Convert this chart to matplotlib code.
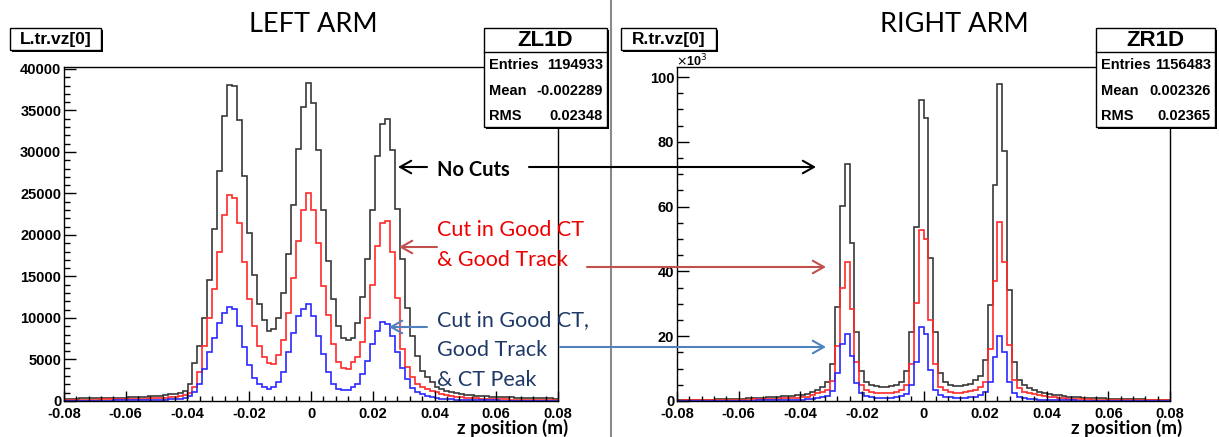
import numpy as np
import matplotlib
matplotlib.use("Agg")
import matplotlib.pyplot as plt
from matplotlib.patches import Rectangle, FancyArrowPatch
from matplotlib.lines import Line2D
from matplotlib.ticker import MultipleLocator, FuncFormatter

plt.rcParams["font.family"] = ["Liberation Sans", "DejaVu Sans"]

W, H = 1219, 437

# 100 bins from -0.08 to 0.08 m
z_lo, z_hi, n_bins = -0.08, 0.08, 100
edges = np.linspace(z_lo, z_hi, n_bins + 1)

# ---- LEFT ARM (counts) ----
left_nocut = [
    280, 300, 290, 310, 320, 310, 330, 350, 340, 370,
    380, 400, 420, 430, 460, 480, 520, 560, 600, 650,
    720, 800, 880, 950, 1250, 2100, 4560, 6570, 10050, 14570,
    20740, 27670, 34350, 38080, 37900, 33870, 27070, 20260, 15130, 11650,
    9700, 8440, 8640, 10050, 13050, 17660, 23660, 30350, 35470, 38360,
    35960, 30270, 23060, 16860, 12250, 9050, 7650, 7330, 7650, 9450,
    12570, 17060, 23000, 29470, 33400, 34000, 30270, 23140, 17060, 11250,
    7850, 5450, 3640, 2840, 2240, 1640, 1440, 1240, 1040, 920,
    840, 760, 700, 640, 600, 560, 520, 500, 470, 450,
    430, 410, 390, 380, 360, 350, 340, 330, 320, 300]
left_ct_track = [
    150, 160, 150, 170, 160, 180, 170, 190, 200, 200,
    210, 220, 230, 240, 250, 270, 290, 310, 340, 370,
    400, 440, 480, 560, 700, 1000, 1640, 3440, 6650, 10050,
    13450, 17940, 22460, 24780, 24500, 21460, 16740, 12330, 9050, 6570,
    5250, 4560, 4440, 5530, 7330, 10650, 14860, 19260, 23060, 25060,
    22980, 19060, 13850, 10330, 6850, 4640, 3920, 3840, 4640, 5250,
    7050, 10050, 14000, 18700, 21400, 21700, 17940, 12450, 6250, 4040,
    2840, 2040, 1640, 1440, 1240, 1040, 840, 700, 600, 520,
    460, 400, 360, 320, 290, 260, 240, 220, 200, 190,
    180, 170, 160, 150, 150, 140, 130, 130, 120, 120]
left_ct_peak = [
    40, 40, 50, 40, 50, 50, 60, 50, 60, 60,
    70, 70, 80, 80, 90, 100, 110, 120, 140, 160,
    180, 210, 250, 300, 380, 560, 1040, 2040, 3840, 5850,
    7650, 9450, 10650, 11330, 11130, 9050, 6450, 4300, 2800, 2000,
    1640, 1440, 1640, 2320, 3440, 5850, 8170, 10250, 11050, 11650,
    10250, 7850, 5650, 3440, 2040, 1440, 1320, 1320, 1640, 2040,
    3240, 4840, 6850, 8450, 9550, 9250, 7850, 5850, 4000, 2600,
    1600, 1100, 800, 600, 450, 350, 280, 230, 190, 160,
    140, 120, 110, 100, 90, 80, 70, 70, 60, 60,
    50, 50, 50, 40, 40, 40, 40, 30, 30, 30]

# ---- RIGHT ARM (thousands of counts) ----
right_nocut = [
    0.30, 0.32, 0.33, 0.35, 0.38, 0.40, 0.42, 0.45, 0.48, 0.52,
    0.55, 0.60, 0.65, 0.70, 0.78, 0.85, 0.95, 1.05, 1.15, 1.25,
    1.35, 1.45, 1.55, 1.65, 1.75, 1.85, 2.2, 2.7, 3.3, 4.3,
    5.9, 11.3, 29.0, 60.3, 73.3, 48.8, 21.3, 9.3, 5.9, 4.9,
    4.6, 4.4, 4.4, 4.5, 4.9, 5.9, 9.3, 21.3, 53.8, 92.8,
    87.5, 44.1, 21.3, 8.5, 5.9, 4.9, 4.6, 4.6, 4.9, 5.4,
    6.5, 7.7, 12.6, 29.5, 66.7, 97.9, 77.2, 34.2, 12.1, 6.5,
    4.9, 3.9, 3.4, 2.9, 2.5, 2.2, 1.9, 1.7, 1.5, 1.35,
    1.2, 1.1, 1.0, 0.95, 0.9, 0.85, 0.8, 0.75, 0.7, 0.65,
    0.6, 0.55, 0.52, 0.5, 0.47, 0.45, 0.42, 0.4, 0.38, 0.35]
right_ct_track = [
    0.15, 0.16, 0.17, 0.18, 0.19, 0.20, 0.22, 0.24, 0.26, 0.28,
    0.30, 0.33, 0.36, 0.40, 0.44, 0.48, 0.53, 0.58, 0.64, 0.70,
    0.76, 0.82, 0.90, 0.98, 1.05, 1.1, 1.3, 1.8, 2.4, 2.9,
    3.4, 6.3, 16.9, 34.9, 42.9, 28.5, 12.1, 4.9, 3.4, 2.9,
    2.5, 2.4, 2.4, 2.5, 2.9, 3.4, 4.9, 11.4, 30.3, 52.8,
    50.1, 24.9, 11.4, 4.4, 3.4, 2.9, 2.6, 2.6, 2.8, 3.0,
    3.4, 4.2, 5.9, 16.2, 37.0, 55.2, 42.9, 17.2, 6.5, 3.9,
    2.9, 2.4, 2.1, 1.8, 1.5, 1.3, 1.1, 0.95, 0.85, 0.75,
    0.65, 0.60, 0.55, 0.50, 0.45, 0.42, 0.40, 0.37, 0.35, 0.32,
    0.30, 0.28, 0.26, 0.25, 0.24, 0.22, 0.21, 0.20, 0.19, 0.18]
right_ct_peak = [
    0.05, 0.05, 0.06, 0.06, 0.07, 0.07, 0.08, 0.08, 0.09, 0.10,
    0.10, 0.11, 0.12, 0.13, 0.14, 0.15, 0.17, 0.19, 0.21, 0.23,
    0.25, 0.28, 0.31, 0.35, 0.40, 0.45, 0.55, 0.70, 0.90, 1.2,
    1.6, 3.0, 8.5, 17.5, 20.8, 13.8, 5.6, 2.4, 1.5, 1.2,
    1.05, 1.0, 1.0, 1.05, 1.2, 1.5, 2.2, 5.0, 12.1, 22.9,
    20.6, 9.5, 3.4, 1.8, 1.3, 1.1, 1.0, 1.0, 1.05, 1.15,
    1.3, 1.7, 2.9, 5.9, 13.6, 20.0, 15.2, 5.9, 2.4, 1.3,
    0.9, 0.7, 0.55, 0.45, 0.38, 0.32, 0.28, 0.24, 0.21, 0.19,
    0.17, 0.15, 0.14, 0.13, 0.12, 0.11, 0.10, 0.10, 0.09, 0.09,
    0.08, 0.08, 0.07, 0.07, 0.07, 0.06, 0.06, 0.06, 0.05, 0.05]

c_black = "#383838"
c_red = "#ff2a2a"
c_blue = "#2a2aff"


def fx(x):
    return x / W


def fy(y):
    return 1 - y / H


fig = plt.figure(figsize=(W / 100, H / 100), dpi=100)
fig.patch.set_facecolor("white")

ax_l = fig.add_axes([fx(64), fy(401), 494 / W, 334 / H])
ax_r = fig.add_axes([fx(677), fy(401), 493 / W, 334 / H])


def style(ax, ymax, ymaj, ymin):
    ax.set_xlim(z_lo, z_hi)
    ax.set_ylim(0, ymax)
    ax.xaxis.set_major_locator(MultipleLocator(0.02))
    ax.xaxis.set_minor_locator(MultipleLocator(0.004))
    ax.yaxis.set_major_locator(MultipleLocator(ymaj))
    ax.yaxis.set_minor_locator(MultipleLocator(ymin))
    ax.xaxis.set_major_formatter(
        FuncFormatter(lambda v, p: "0" if abs(v) < 1e-9 else f"{v:.2f}"))
    ax.yaxis.set_major_formatter(FuncFormatter(lambda v, p: f"{v:.0f}"))
    ax.tick_params(which="both", direction="in", top=False, right=False,
                   width=1, labelsize=10.5)
    ax.tick_params(axis="y", which="major", length=8.5, pad=2)
    ax.tick_params(axis="y", which="minor", length=4.3)
    ax.tick_params(axis="x", which="major", length=7, pad=4.5)
    ax.tick_params(axis="x", which="minor", length=3.5)
    for lab in ax.get_xticklabels() + ax.get_yticklabels():
        lab.set_fontweight("bold")
    for s in ax.spines.values():
        s.set_linewidth(1)
        s.set_color("black")


# left arm histograms
ax_l.stairs(left_nocut, edges, color=c_black, lw=1.2, baseline=None)
ax_l.stairs(left_ct_track, edges, color=c_red, lw=1.2, baseline=None)
ax_l.stairs(left_ct_peak, edges, color=c_blue, lw=1.2, baseline=None)
style(ax_l, 40240, 5000, 1000)

# right arm histograms
ax_r.stairs(right_nocut, edges, color=c_black, lw=1.2, baseline=None)
ax_r.stairs(right_ct_track, edges, color=c_red, lw=1.2, baseline=None)
ax_r.stairs(right_ct_peak, edges, color=c_blue, lw=1.2, baseline=None)
style(ax_r, 103.1, 20, 5)

# x axis titles
note_font = ["Lato", "DejaVu Sans"]
fig.text(fx(568), fy(428), "z position (m)", ha="right", va="center",
         fontsize=13.5, fontweight="bold", family=note_font)
fig.text(fx(1182), fy(428), "z position (m)", ha="right", va="center",
         fontsize=13.5, fontweight="bold", family=note_font)
fig.text(fx(676), fy(61), r"$\times$10$^{3}$", ha="left", va="center",
         fontsize=9, fontweight="bold")

# arm titles
fig.text(fx(313), fy(24), "LEFT ARM", ha="center", va="center",
         fontsize=19.5, family=note_font)
fig.text(fx(954), fy(24), "RIGHT ARM", ha="center", va="center",
         fontsize=19.5, family=note_font)

# divider between the two screenshots
fig.add_artist(Line2D([fx(611), fx(611)], [0, 1], color="#8a8a8a", lw=1.5,
                      transform=fig.transFigure, zorder=1))


def box(x0, y0, x1, y1, sh=2):
    fig.add_artist(Rectangle((fx(x0 + sh), fy(y1 + sh)), (x1 - x0) / W,
                             (y1 - y0) / H, transform=fig.transFigure,
                             facecolor="black", edgecolor="none", zorder=4))
    fig.add_artist(Rectangle((fx(x0), fy(y1)), (x1 - x0) / W, (y1 - y0) / H,
                             transform=fig.transFigure, facecolor="white",
                             edgecolor="black", lw=1, zorder=5))


def title_box(x0, x1, text):
    box(x0, 28, x1, 50)
    fig.text(fx((x0 + x1) / 2), fy(39.5), text, ha="center", va="center",
             fontsize=12.5, fontweight="bold", zorder=6)


def stat_box(x0, x1, name, rows):
    box(x0, 28, x1, 127)
    fig.add_artist(Line2D([fx(x0), fx(x1)], [fy(52), fy(52)], color="black",
                          lw=1, transform=fig.transFigure, zorder=6))
    fig.text(fx((x0 + x1) / 2), fy(40.5), name, ha="center", va="center",
             fontsize=16, fontweight="bold", zorder=6)
    for (lab, val), yy in zip(rows, [65, 91, 116]):
        fig.text(fx(x0 + 5), fy(yy), lab, ha="left", va="center",
                 fontsize=10.5, fontweight="bold", zorder=6)
        fig.text(fx(x1 - 4), fy(yy), val, ha="right", va="center",
                 fontsize=10.5, fontweight="bold", zorder=6)


title_box(10, 101, "L.tr.vz[0]")
title_box(621, 716, "R.tr.vz[0]")
stat_box(484, 607, "ZL1D", [("Entries", "1194933"), ("Mean", "-0.002289"),
                            ("RMS", "0.02348")])
stat_box(1096, 1215, "ZR1D", [("Entries", "1156483"), ("Mean", "0.002326"),
                              ("RMS", "0.02365")])

# annotations
fig.text(fx(437), fy(170), "No Cuts", ha="left", va="center", fontsize=14.5,
         fontweight="bold", family=note_font, zorder=6)
fig.text(fx(437), fy(230), "Cut in Good CT", ha="left", va="center",
         fontsize=15.5, color="#ee0000", family=note_font, zorder=6)
fig.text(fx(437), fy(260), "& Good Track", ha="left", va="center",
         fontsize=15.5, color="#ee0000", family=note_font, zorder=6)
for txt, yy in [("Cut in Good CT,", 320), ("Good Track", 350), ("& CT Peak", 380)]:
    fig.text(fx(437), fy(yy), txt, ha="left", va="center", fontsize=15.5,
             color="#1f3a68", family=note_font, zorder=6)


def arrow(xa, ya, xb, yb, color):
    fig.add_artist(FancyArrowPatch((fx(xa), fy(ya)), (fx(xb), fy(yb)),
                                   transform=fig.transFigure,
                                   arrowstyle="->,head_length=0.8,head_width=0.45",
                                   mutation_scale=10, color=color, lw=1.5,
                                   shrinkA=0, shrinkB=0, zorder=6))


arrow(427, 167, 398, 167, "black")
arrow(529, 167, 816, 167, "black")
arrow(437, 247, 399, 247, "#c0504d")
arrow(587, 267, 826, 267, "#c0504d")
arrow(427, 327, 389, 327, "#4f81bd")
arrow(560, 347, 826, 347, "#4f81bd")

fig.savefig("out.png", dpi=100)
